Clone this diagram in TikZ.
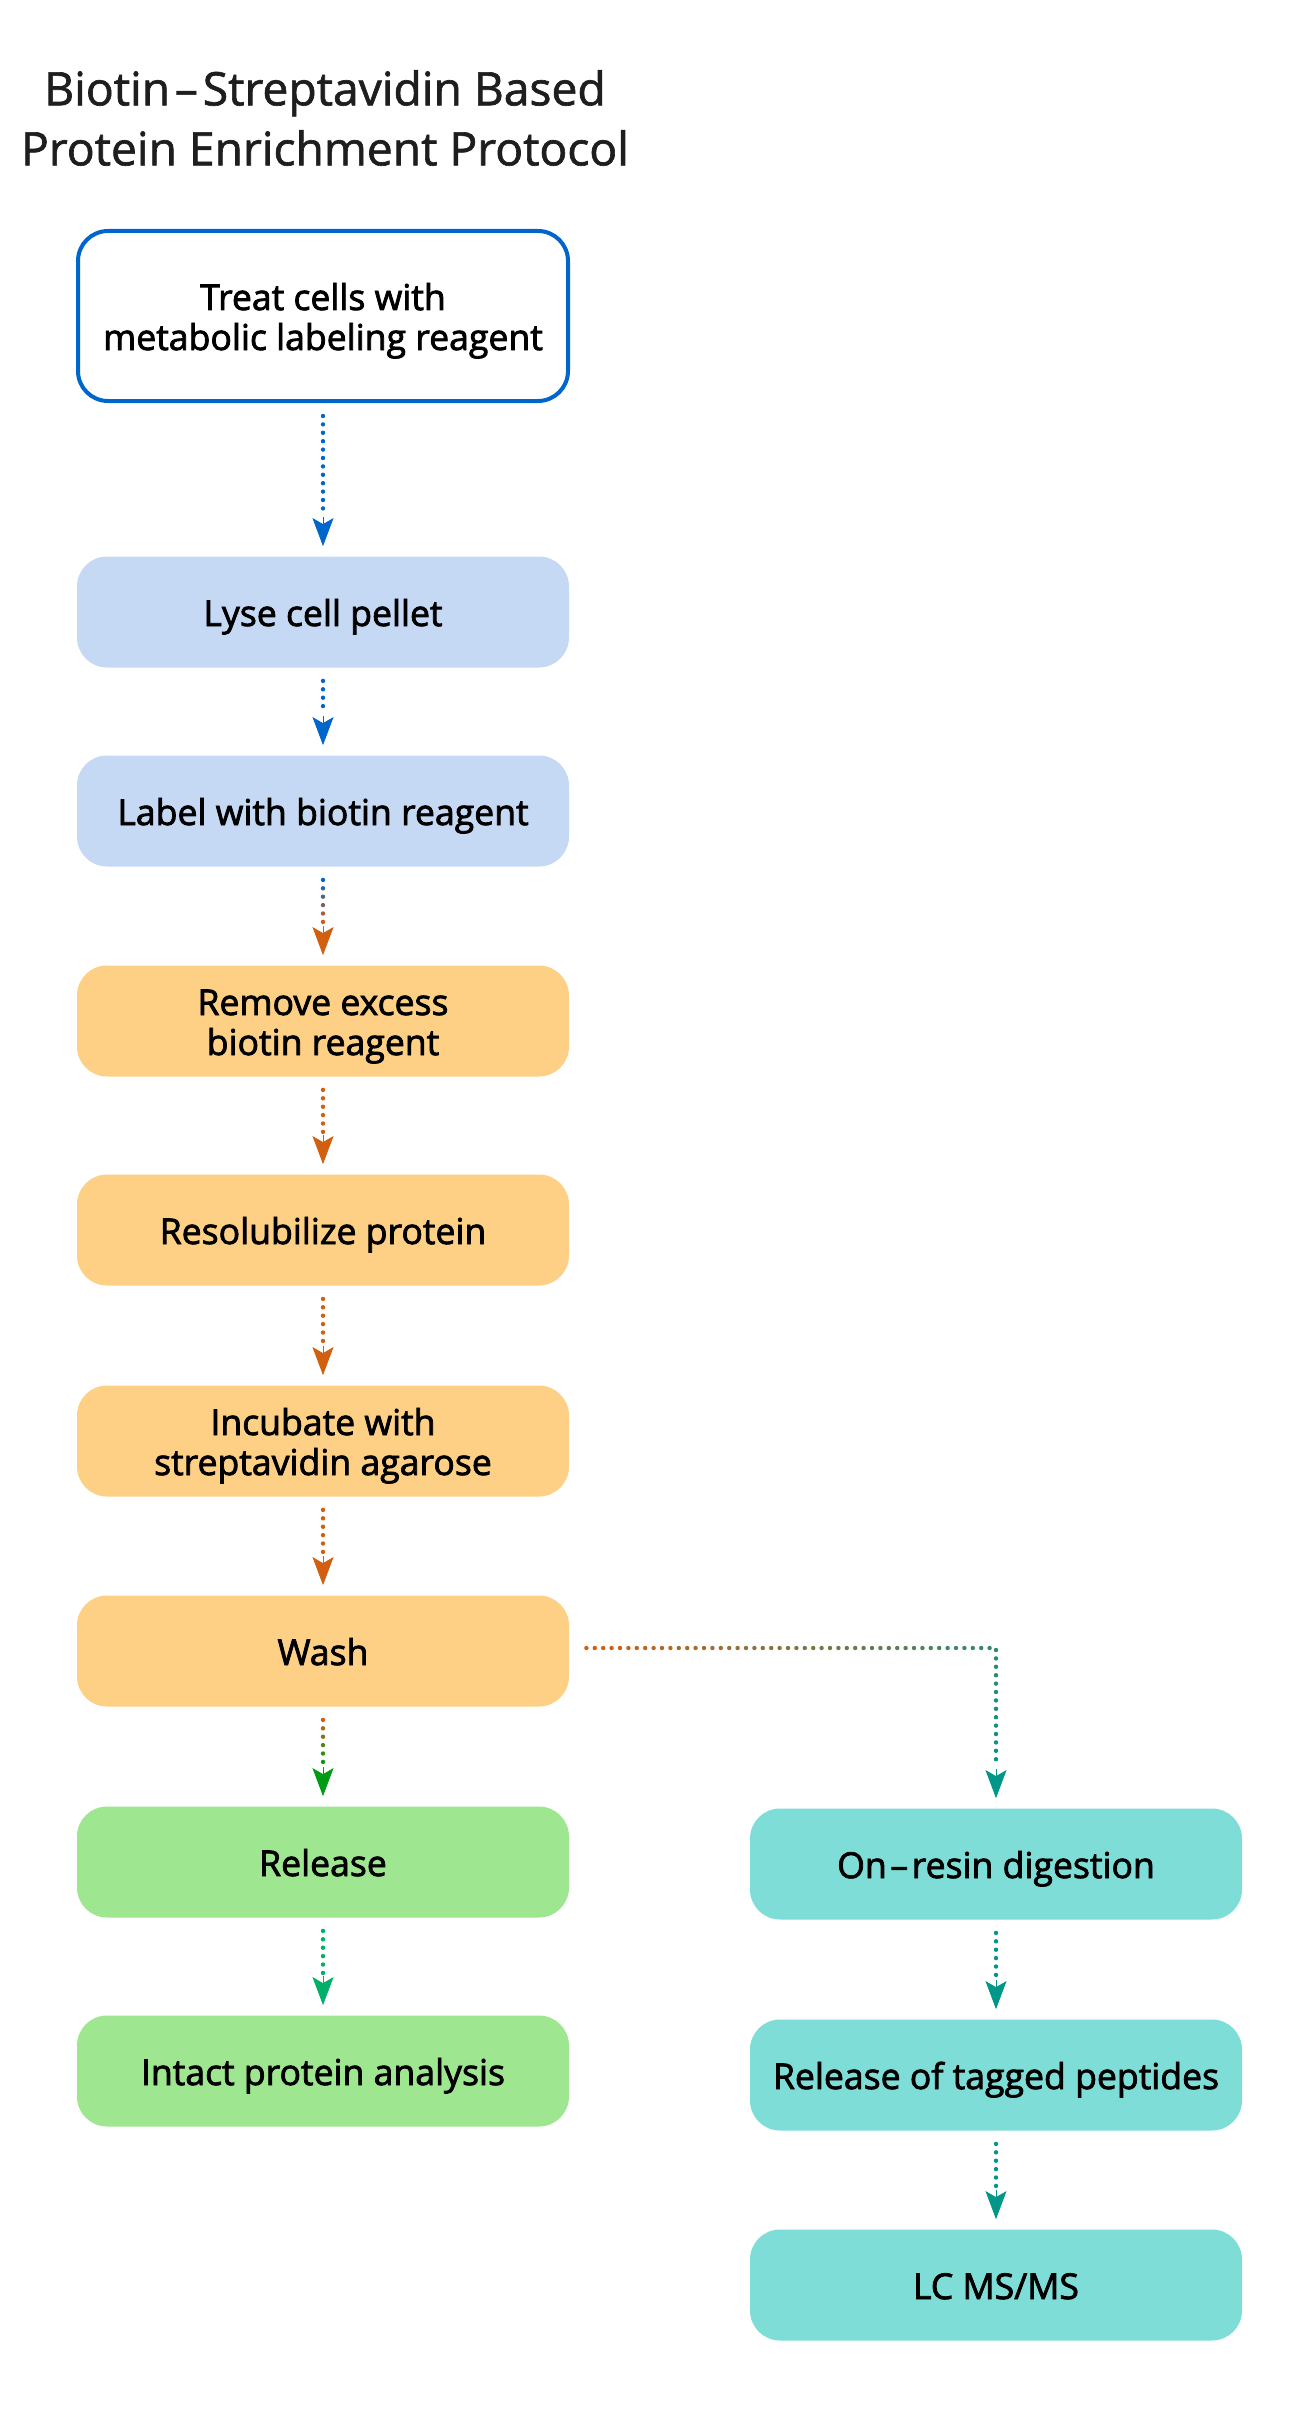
\documentclass[tikz,border=0pt]{standalone}
\usepackage{fontspec}
\setmainfont{Open Sans}
\newfontfamily\sbfont{Open Sans}[FakeBold=2.2]
\newfontfamily\ttlfont{Open Sans}[FakeBold=1.4]
\usetikzlibrary{arrows.meta,calc,decorations.markings}
\definecolor{cblue}{RGB}{0,102,204}
\definecolor{corange}{RGB}{210,95,15}
\definecolor{cgreen}{RGB}{0,155,20}
\definecolor{cgteal}{RGB}{0,176,104}
\definecolor{cteal}{RGB}{0,150,136}
\definecolor{fblue}{RGB}{197,217,244}
\definecolor{forange}{RGB}{254,208,134}
\definecolor{fgreen}{RGB}{158,230,144}
\definecolor{fteal}{RGB}{127,221,216}
\definecolor{ctitle}{RGB}{30,30,30}
\newcommand\bt[1]{\raisebox{-3pt}[\height][\depth]{\begin{tabular}{@{}c@{}}#1\end{tabular}}}
\tikzset{
  x=0.5pt, y=-0.5pt,
  box/.style={rounded corners=15pt, minimum width=246pt, minimum height=55.5pt,
    inner sep=0pt, text=black,
    font=\sbfont\fontsize{17.8}{20}\selectfont},
  titlestyle/.style={align=center, text=ctitle, inner sep=0pt,
    font=\ttlfont\fontsize{23.1}{30}\selectfont},
  gdots/.style n args={2}{postaction={decorate}, decoration={markings,
    mark=between positions 0 and 1 step 4.2pt with {%
      \pgfmathsetmacro\pp{\pgfkeysvalueof{/pgf/decoration/mark info/distance from start}/\pgfdecoratedpathlength*100}%
      \fill[#2!\pp!#1] (0,0) circle (1.1pt);}}},
  tipstyle/.style={line width=0.4pt, -{Stealth[length=14pt,width=10.5pt,inset=3pt]}}
}
\newcommand\arrowtip[2]{%
  \draw[#2, tipstyle] ($(#1.north)+(0,-39)$) -- ($(#1.north)+(0,-10)$);}
\newcommand\vconn[4]{%
  \path[gdots={#3}{#4}] ($(#1.south)+(0,13)$) -- ($(#2.north)+(0,-42)$);
  \arrowtip{#2}{#4}}
\begin{document}
\begin{tikzpicture}
\fill[white] (0,0) rectangle (1312,2418);
\useasboundingbox (0,0) rectangle (1312,2418);

\node[titlestyle] (title) at (325,118) {Biotin\kern2.4pt–\kern2.4pt Streptavidin Based\\Protein Enrichment Protocol};

\node[box, draw=cblue, line width=2pt, fill=white, minimum height=85pt, minimum width=245pt] (treat) at (323,316) {\bt{Treat cells with\\metabolic labeling reagent}};
\node[box, fill=fblue] (lyse) at (323,612) {\bt{Lyse cell pellet}};
\node[box, fill=fblue] (label) at (323,811) {\bt{Label with biotin reagent}};
\node[box, fill=forange] (remove) at (323,1021) {\bt{Remove excess\\biotin reagent}};
\node[box, fill=forange] (resol) at (323,1230) {\bt{Resolubilize protein}};
\node[box, fill=forange] (incub) at (323,1441) {\bt{Incubate with\\streptavidin agarose}};
\node[box, fill=forange] (wash) at (323,1651) {\bt{Wash}};
\node[box, fill=fgreen] (rel) at (323,1862) {\bt{Release}};
\node[box, fill=fgreen] (intact) at (323,2071) {\bt{Intact protein analysis}};
\node[box, fill=fteal] (onres) at (996,1864) {\bt{On\kern1.8pt–\kern1.8pt resin digestion}};
\node[box, fill=fteal] (reltag) at (996,2075) {\bt{Release of tagged peptides}};
\node[box, fill=fteal] (lcms) at (996,2285) {\bt{LC MS/MS}};

\vconn{treat}{lyse}{cblue}{cblue}
\vconn{lyse}{label}{cblue}{cblue}
\vconn{label}{remove}{cblue}{corange}
\vconn{remove}{resol}{corange}{corange}
\vconn{resol}{incub}{corange}{corange}
\vconn{incub}{wash}{corange}{corange}
\vconn{wash}{rel}{corange}{cgreen}
\vconn{rel}{intact}{cgteal}{cgteal}
\vconn{onres}{reltag}{cteal}{cteal}
\vconn{reltag}{lcms}{cteal}{cteal}
\path[gdots={corange}{cteal}] ($(wash.east)+(17,-3)$) -| ($(onres.north)+(0,-42)$);
\arrowtip{onres}{cteal}
\end{tikzpicture}
\end{document}
